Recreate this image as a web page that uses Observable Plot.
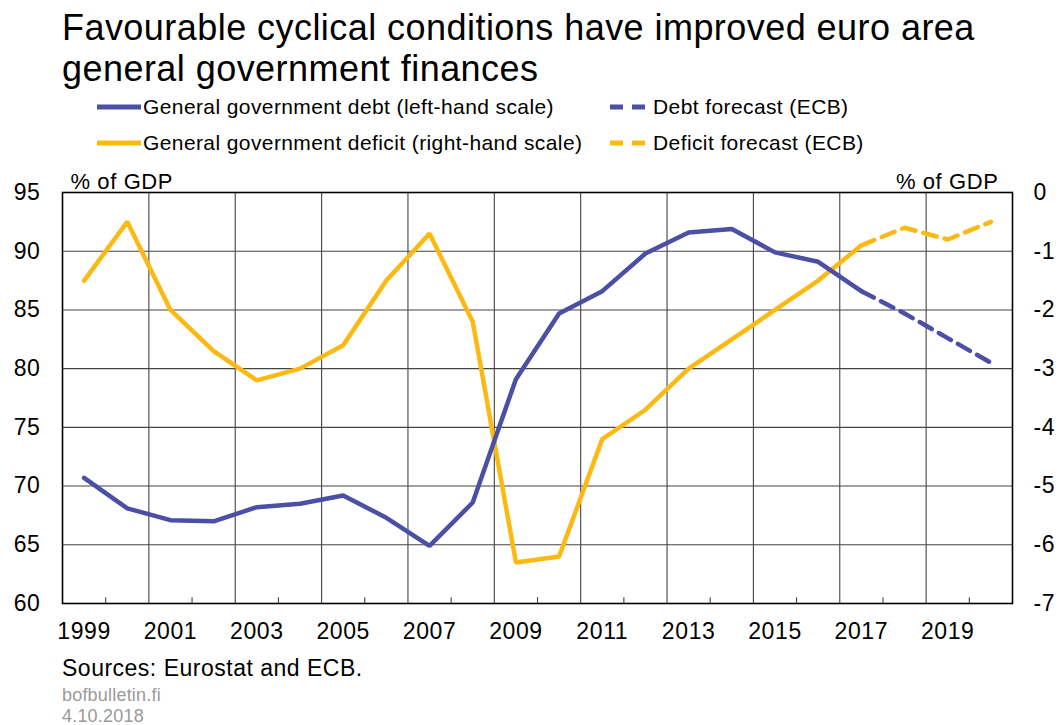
<!DOCTYPE html>
<html>
<head>
<meta charset="utf-8">
<script src="https://cdn.jsdelivr.net/npm/d3@7"></script>
<script src="https://cdn.jsdelivr.net/npm/@observablehq/plot@0.6"></script>
<style>
  html, body { margin: 0; padding: 0; background: #fff; }
  #wrap { position: relative; width: 1060px; height: 725px; overflow: hidden;
          font-family: "Liberation Sans", Arial, sans-serif; color: #000; }
  #title { position: absolute; left: 62px; top: 7px; font-size: 36px; line-height: 41px; letter-spacing: 0.45px; }
  .leg { position: absolute; font-size: 21px; line-height: 24px; letter-spacing: 0.4px; display: flex; align-items: center; white-space: nowrap; }
  .leg svg { margin-right: 2px; }
  #chart { position: absolute; left: 0; top: 160px; }
  #src { position: absolute; left: 62px; top: 655px; font-size: 23px; letter-spacing: 0.5px; }
  #site { position: absolute; left: 62px; top: 685px; font-size: 18px; color: #9a9a9a; letter-spacing: 0.2px; }
  #date { position: absolute; left: 62px; top: 706px; font-size: 18px; color: #9a9a9a; letter-spacing: 0.2px; }
</style>
</head>
<body>
<div id="wrap">
  <div id="title">Favourable cyclical conditions have improved euro area<br>general government finances</div>
  <div id="legend"></div>
  <div id="chart"></div>
  <div id="src">Sources: Eurostat and ECB.</div>
  <div id="site">bofbulletin.fi</div>
  <div id="date">4.10.2018</div>
</div>
<script>
// ---- data ----
const years = [1999, 2000, 2001, 2002, 2003, 2004, 2005, 2006, 2007, 2008, 2009,
               2010, 2011, 2012, 2013, 2014, 2015, 2016, 2017, 2018, 2019, 2020];
const debt = [70.7, 68.1, 67.1, 67.0, 68.2, 68.5, 69.2, 67.3, 64.9, 68.6, 79.1,
              84.7, 86.6, 89.8, 91.6, 91.9, 89.9, 89.1, 86.6, 84.7, 82.6, 80.5];
const deficit = [-1.5, -0.5, -2.0, -2.7, -3.2, -3.0, -2.6, -1.5, -0.7, -2.2, -6.3,
                 -6.2, -4.2, -3.7, -3.0, -2.5, -2.0, -1.5, -0.9, -0.6, -0.8, -0.5];
const forecastFrom = 2017;
const xTickLabels = [1999, 2001, 2003, 2005, 2007, 2009, 2011, 2013, 2015, 2017, 2019];
const leftTicks = [60, 65, 70, 75, 80, 85, 90, 95];
const rightTicks = [-7, -6, -5, -4, -3, -2, -1, 0];
const seriesNames = {
  debt: "General government debt (left-hand scale)",
  deficit: "General government deficit (right-hand scale)",
  debtF: "Debt forecast (ECB)",
  deficitF: "Deficit forecast (ECB)"
};
const BLUE = "#4b4fa5";
const YELLOW = "#fdb913";

// ---- build ----
const rows = years.map((y, i) => ({year: y, debt: debt[i], deficit: deficit[i]}));
const actual = rows.filter(d => d.year <= forecastFrom);
const forecast = rows.filter(d => d.year >= forecastFrom);
// right-hand scale (-7..0) mapped onto left-hand scale (60..95)
const toLeft = v => 95 + v * 5;
const fromLeft = v => (v - 95) / 5;

const gridX = years.filter(y => (y - 1999) % 2 === 1 && y < 2020).map(y => y + 0.5);
const minorX = years.filter(y => (y - 1999) % 2 === 0).map(y => y + 0.5);

const chart = Plot.plot({
  width: 1060,
  height: 488,
  marginLeft: 62,
  marginRight: 48,
  marginTop: 32,
  marginBottom: 45,
  x: {domain: [years[0] - 0.5, years[years.length - 1] + 0.5], label: null},
  y: {domain: [60, 95], label: null},
  style: {fontFamily: '"Liberation Sans", Arial, sans-serif', fontSize: "23px", color: "#000", background: "transparent", letterSpacing: "0.6px"},
  marks: [
    Plot.ruleY(leftTicks.slice(1, -1), {stroke: "#444", strokeWidth: 1.1}),
    Plot.ruleX(gridX, {stroke: "#444", strokeWidth: 1.1}),
    Plot.ruleX(minorX, {y1: 60, y2: 60.5, stroke: "#444", strokeWidth: 1.1}),
    Plot.line(actual, {x: "year", y: d => toLeft(d.deficit), stroke: YELLOW, strokeWidth: 4.5, strokeLinejoin: "miter"}),
    Plot.line(forecast, {x: "year", y: d => toLeft(d.deficit), stroke: YELLOW, strokeWidth: 4.5, strokeDasharray: "14,8"}),
    Plot.line(actual, {x: "year", y: "debt", stroke: BLUE, strokeWidth: 4.5, strokeLinejoin: "miter"}),
    Plot.line(forecast, {x: "year", y: "debt", stroke: BLUE, strokeWidth: 4.5, strokeDasharray: "14,8"}),
    Plot.frame({stroke: "#000", strokeWidth: 1.6}),
    Plot.axisX({ticks: xTickLabels, tickFormat: d => String(d), tickSize: 0, tickPadding: 19, fontSize: 23, label: null}),
    Plot.axisY({anchor: "left", ticks: leftTicks, tickSize: 0, tickPadding: 22, fontSize: 23, label: null}),
    Plot.axisY({anchor: "right", ticks: rightTicks.map(toLeft), tickFormat: v => String(fromLeft(v)), tickSize: 0, tickPadding: 21, fontSize: 23, label: null}),
    Plot.text(["% of GDP"], {frameAnchor: "top-left", textAnchor: "start", lineAnchor: "bottom", dx: 8, dy: -4, fontSize: 22}),
    Plot.text(["% of GDP"], {frameAnchor: "top-right", textAnchor: "end", lineAnchor: "bottom", dx: -14, dy: -4, fontSize: 22})
  ]
});
document.getElementById("chart").appendChild(chart);

// ---- legend ----
function swatch(color, dashed) {
  const w = dashed ? 36 : 44;
  const line = dashed
    ? `<line x1="0" y1="6" x2="${w}" y2="6" stroke="${color}" stroke-width="5" stroke-dasharray="13,9"/>`
    : `<line x1="0" y1="6" x2="${w}" y2="6" stroke="${color}" stroke-width="5"/>`;
  return `<svg width="${w}" height="12">${line}</svg>`;
}
const legendItems = [
  {name: seriesNames.debt, color: BLUE, dashed: false, left: 97, top: 95},
  {name: seriesNames.deficit, color: YELLOW, dashed: false, left: 97, top: 131},
  {name: seriesNames.debtF, color: BLUE, dashed: true, left: 610, top: 95},
  {name: seriesNames.deficitF, color: YELLOW, dashed: true, left: 610, top: 131}
];
const legend = document.getElementById("legend");
legendItems.forEach(it => {
  const div = document.createElement("div");
  div.className = "leg";
  div.style.left = it.left + "px";
  div.style.top = it.top + "px";
  div.innerHTML = swatch(it.color, it.dashed) + `<span style="margin-left:${it.dashed ? 5 : 0}px">${it.name}</span>`;
  legend.appendChild(div);
});
</script>
</body>
</html>
